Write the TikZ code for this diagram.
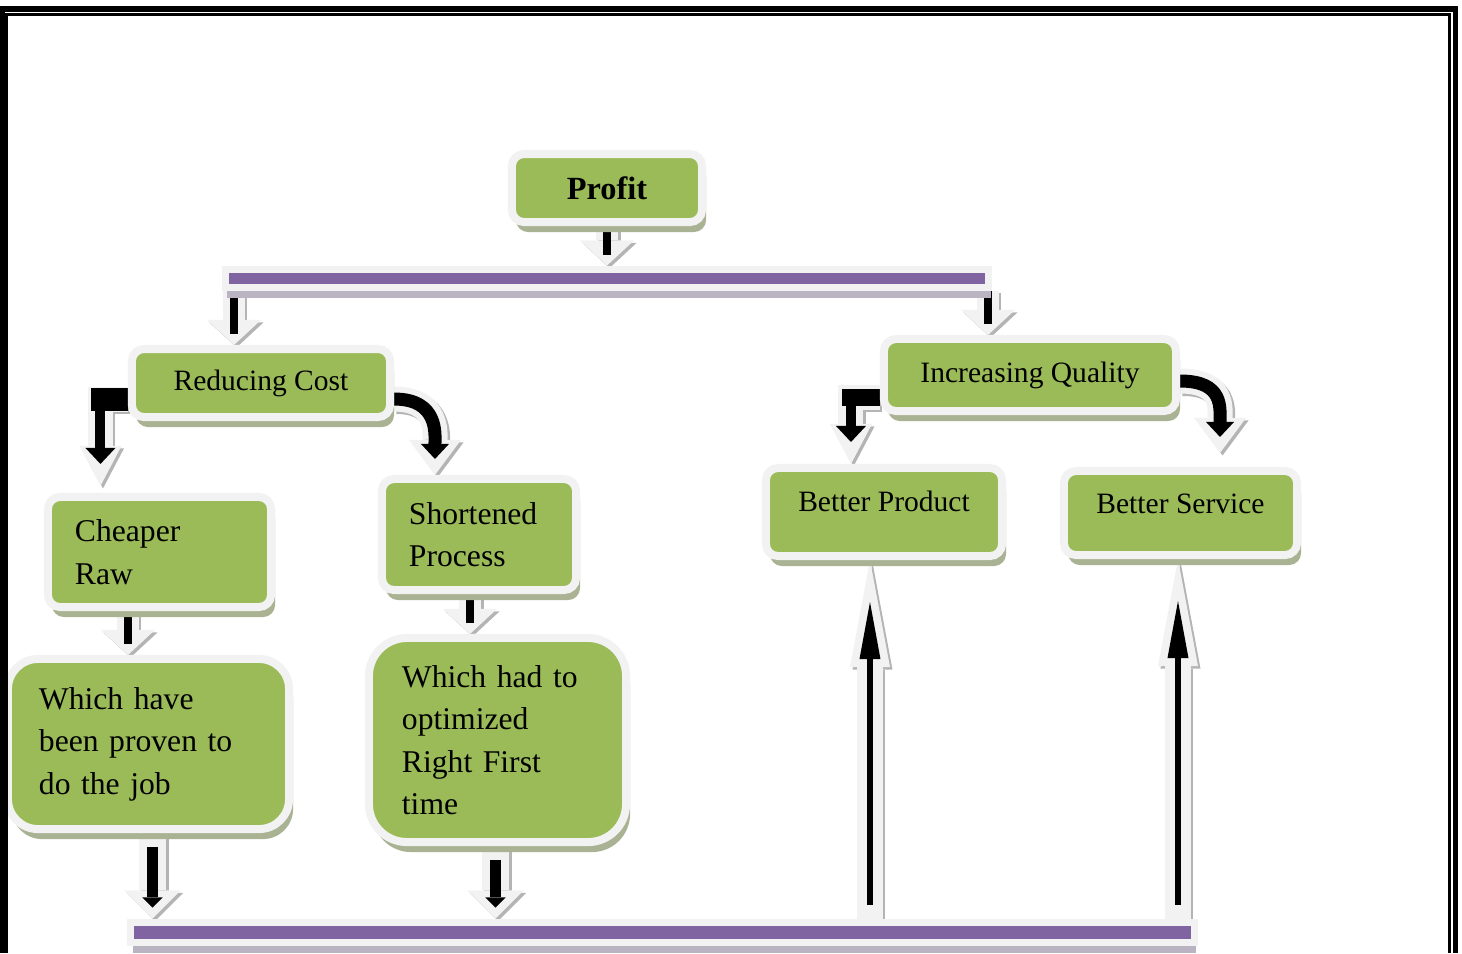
\documentclass[tikz,border=0pt]{standalone}
\usepackage{fontspec}
\setmainfont{Liberation Serif}
\usetikzlibrary{arrows.meta,shadows,backgrounds}

\definecolor{leaf}{HTML}{9BBB59}
\definecolor{grape}{HTML}{8064A2}
\definecolor{pale}{HTML}{F2F2F2}
\definecolor{boxshade}{HTML}{A9B393}
\definecolor{barshade}{HTML}{BAB4C2}
\definecolor{arrowshade}{HTML}{B4B4B4}

\newcommand{\headfont}{\fontsize{8.4}{10}\selectfont}
\newcommand{\notefont}{\fontsize{9}{12.1}\selectfont}
\newcommand{\profitfont}{\bfseries\fontsize{9.2}{11}\selectfont}

\tikzset{
  box/.style={draw=pale, line width=0.8mm, fill=leaf, rounded corners=1.2mm,
    inner sep=0pt, font=\headfont,
    drop shadow={shadow xshift=0.4mm, shadow yshift=-1mm, fill=boxshade, opacity=1}},
  notebox/.style={box, font=\notefont, align=left, inner xsep=#1},
  bar/.style={draw=pale, line width=0.7mm, fill=grape, inner sep=0pt,
    drop shadow={shadow xshift=0.2mm, shadow yshift=-1.1mm, fill=barshade, opacity=1}},
  hollow/.style n args={3}{
    preaction={draw=arrowshade, line width=#1, shorten >=0pt, shorten <=0pt,
      -{Triangle[width=#2,length=#3,line width=0pt]},
      transform canvas={xshift=0.25mm,yshift=-0.25mm}},
    preaction={draw=pale, line width=#1, shorten >=0pt, shorten <=0pt,
      -{Triangle[width=#2,length=#3,line width=0pt]}}},
  downarrow/.style={hollow={2.2mm}{5.4mm}{2.5mm}, draw=black, line width=0.8mm,
    shorten >=1.1mm},
  droparrow/.style={hollow={2.7mm}{5.6mm}{2.8mm}, draw=black, line width=1.05mm,
    shorten >=1.1mm, shorten <=1.4mm, -{Triangle[width=2mm,length=1mm,line width=0pt]}},
  risearrow/.style={hollow={2.5mm}{4mm}{10.7mm}, draw=black, line width=0.65mm,
    shorten >=4.2mm, shorten <=1.4mm, -{Triangle[width=2.1mm,length=5.7mm,line width=0pt]}},
  bentarrow/.style={hollow={2.5mm}{4.2mm}{4mm}, draw=black, line width=1mm,
    shorten >=2.2mm, -{Triangle[width=3mm,length=1.6mm,line width=0pt]}},
  curvearrow/.style={hollow={2.5mm}{5.2mm}{3.5mm}, draw=black, line width=1.3mm,
    shorten >=1.6mm, -{Triangle[width=2.8mm,length=1.5mm,line width=0pt]}},
  bendblock/.style={draw=black, line width=#1}
}

\begin{document}
\begin{tikzpicture}[x=0.01cm,y=-0.01cm]
  \useasboundingbox (0,0) rectangle (1462,953);

  % Top of the tree
  \node[box, minimum width=19mm, minimum height=6.8mm, font=\profitfont] (profit) at (607,188) {Profit};
  \node[bar, minimum width=76.3mm, minimum height=1.8mm] (topbar) at (607,278) {};

  % Two branches
  \node[box, minimum width=25.8mm, minimum height=6.8mm] (reduce) at (261,383) {Reducing Cost};
  \node[box, minimum width=29.2mm, minimum height=7.2mm] (incq) at (1030,375) {Increasing Quality};

  % Cost side
  \node[notebox=2.7mm, text width=16.9mm, minimum height=11mm] (cheap) at (159.5,552) {Cheaper\\Raw};
  \node[notebox=2.7mm, text width=14mm, minimum height=11.1mm] (short) at (479,534.5) {Shortened\\Process};
  \node[notebox=3.1mm, text width=21.9mm, minimum height=17mm, rounded corners=3mm] (proven) at (148.5,744) {Which have\\been proven to\\do the job};
  \node[notebox=3.3mm, text width=19.1mm, minimum height=20.4mm, rounded corners=3.8mm] (rft) at (497.5,740) {Which had to\\optimized\\Right First\\time};

  % Quality side
  \node[box, minimum width=23.6mm, minimum height=8.8mm, text depth=2.2mm] (bprod) at (884,512) {Better Product};
  \node[box, minimum width=23.3mm, minimum height=8.4mm, text depth=1.9mm] (bserv) at (1180.5,513) {Better Service};

  % Lower bar
  \node[bar, minimum width=106.3mm, minimum height=2mm] (botbar) at (662.5,932) {};

  \begin{scope}[on background layer]
    % Profit down to the upper bar, then to both branches
    \draw[downarrow] (profit.south) -- (topbar.north);
    \draw[downarrow] ([xshift=-2.7mm]reduce.north |- topbar.south) -- ([xshift=-2.7mm]reduce.north);
    \draw[downarrow] ([xshift=-4.2mm]incq.north |- topbar.south) -- ([xshift=-4.2mm]incq.north);
    % Bent and curved arrows out of the branches
    \draw[bentarrow] ([yshift=-1.6mm]reduce.west) -| ([xshift=-5.9mm,yshift=0.7mm]cheap.north);
    \draw[bendblock=2.3mm] ([yshift=-1.6mm]reduce.west) -- ++(-37,0);
    \draw[bentarrow] ([yshift=-2.2mm]incq.west) -| ([xshift=-3.3mm]bprod.north);
    \draw[bendblock=1.7mm] ([yshift=-2.2mm]incq.west) -- ++(-38,0);
    \draw[curvearrow] ([yshift=-1.6mm]reduce.east) .. controls +(45,0) and +(0,-40) .. ([xshift=-4.4mm]short.north);
    \draw[curvearrow] ([yshift=-0.6mm]incq.east) .. controls +(44,0) and +(0,-45) .. ([xshift=3.95mm,yshift=1.4mm]bserv.north);
    % Short steps on the cost side
    \foreach \from/\to/\dx in {cheap/proven/-3.15mm, short/rft/-0.9mm} {
      \draw[downarrow] ([xshift=\dx]\from.south) -- ([xshift=\dx]\from.south |- \to.north);
    }
    % Into the lower bar
    \foreach \from/\dx in {proven/0.4mm, rft/-0.2mm} {
      \draw[droparrow] ([xshift=\dx]\from.south) -- ([xshift=\dx]\from.south |- botbar.north);
    }
    % Back up to the quality boxes
    \foreach \to/\dx in {bprod/-1.4mm, bserv/-0.25mm} {
      \draw[risearrow] ([xshift=\dx]\to.south |- botbar.north) -- ([xshift=\dx]\to.south);
    }
  \end{scope}

  % Page frame
  \draw[line width=0.55mm] (2.25,953) |- (1455.4,9) -- (1455.4,953);
  \draw[line width=0.25mm] (6.7,953) |- (1449.7,14.7) -- (1449.7,953);
\end{tikzpicture}
\end{document}
